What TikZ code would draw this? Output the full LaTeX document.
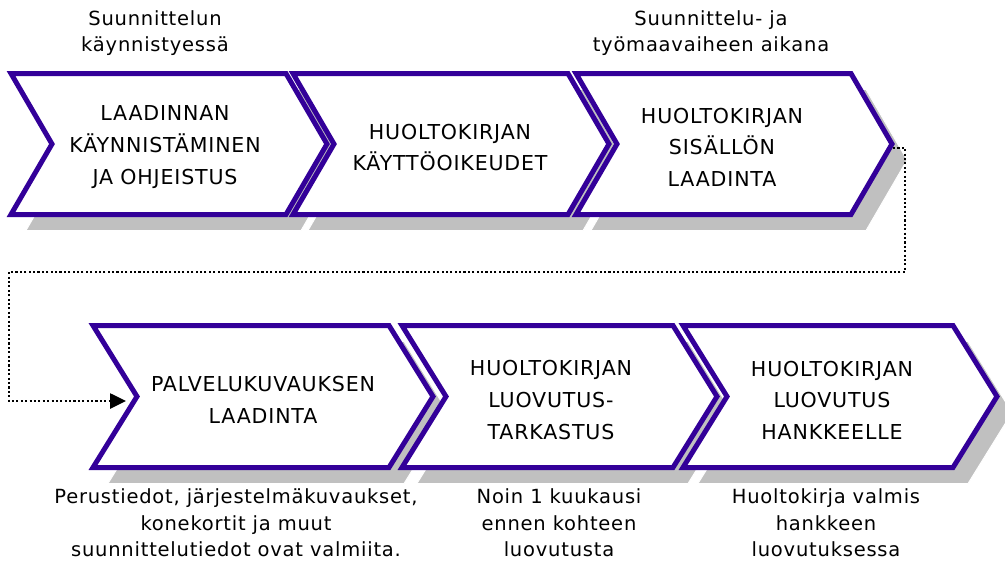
\documentclass[tikz,border=0pt]{standalone}
\usepackage{fontspec}
\setmainfont{DejaVu Sans}
\newfontfamily\stepfont[LetterSpace=4]{DejaVu Sans}
\usetikzlibrary{arrows.meta, positioning}

\definecolor{chevpurple}{RGB}{51,0,153}
\definecolor{shadowgray}{RGB}{192,192,192}

\tikzset{
  chevron/.style={draw=chevpurple, fill=white, line width=2.85pt},
  chevshadow/.style={fill=shadowgray, draw=white, line width=0.5pt},
  steptext/.style={align=center, font=\stepfont\fontsize{11.7}{18}\selectfont},
  note/.style={align=center, font=\stepfont\fontsize{11.1}{15.2}\selectfont},
  flow/.style={line width=1.3pt, dash pattern=on 1.2pt off 1.3pt,
    -{Triangle[length=9pt,width=8.5pt]}},
}

\begin{document}
\begin{tikzpicture}[x=0.02cm, y=-0.02cm]
    \useasboundingbox (0,0) rectangle (1005,583);

    % Shadows behind the chevrons
    \foreach \xa/\xb in {11/286, 293/568, 576/851}
      \filldraw[chevshadow, shift={(15,16)}] (\xa,73.5) -- (\xb,73.5) -- (\xb+41,144)
        -- (\xb,214.5) -- (\xa,214.5) -- (\xa+41,144) -- cycle;
    \foreach \xa/\xb in {93/389, 402/673, 683/953}
      \filldraw[chevshadow, shift={(15,16)}] (\xa,325.5) -- (\xb,325.5) -- (\xb+44,396.5)
        -- (\xb,467.5) -- (\xa,467.5) -- (\xa+44,396.5) -- cycle;

    % Top row of chevrons
    \foreach \xa/\xb/\nm in {11/286/t1, 293/568/t2, 576/851/t3} {
      \filldraw[chevron] (\xa,73.5) -- (\xb,73.5) -- (\xb+41,144)
        -- (\xb,214.5) -- (\xa,214.5) -- (\xa+41,144) -- cycle;
      \coordinate (\nm-tip) at (\xb+42,148);
    }

    % Bottom row of chevrons
    \foreach \xa/\xb/\nm in {93/389/b1, 402/673/b2, 683/953/b3} {
      \filldraw[chevron] (\xa,325.5) -- (\xb,325.5) -- (\xb+44,396.5)
        -- (\xb,467.5) -- (\xa,467.5) -- (\xa+44,396.5) -- cycle;
      \coordinate (\nm-notch) at (\xa+33,401);
    }

    % Step texts
    \node[steptext] (t1-text) at (165,147) {LAADINNAN\\KÄYNNISTÄMINEN\\JA OHJEISTUS};
    \node[steptext] (t2-text) at (450,147.5) {HUOLTOKIRJAN\\KÄYTTÖOIKEUDET};
    \node[steptext] (t3-text) at (722,147) {HUOLTOKIRJAN\\SISÄLLÖN\\LAADINTA};
    \node[steptext] (b1-text) at (263,400) {PALVELUKUVAUKSEN\\LAADINTA};
    \node[steptext] (b2-text) at (551,400) {HUOLTOKIRJAN\\LUOVUTUS-\\TARKASTUS};
    \node[steptext] (b3-text) at (832,400) {HUOLTOKIRJAN\\LUOVUTUS\\HANKKEELLE};

    % Timing notes
    \node[note] (start-note) at (155,33) {Suunnittelun\\käynnistyessä};
    \node[note] (work-note) at (711,33) {Suunnittelu- ja\\työmaavaiheen aikana};
    \node[note] (b1-note) at (236,523) {Perustiedot, järjestelmäkuvaukset,\\konekortit ja muut\\suunnittelutiedot ovat valmiita.};
    \node[note] (b2-note) at (559,523) {Noin 1 kuukausi\\ennen kohteen\\luovutusta};
    \node[note] (b3-note) at (826,523) {Huoltokirja valmis\\hankkeen\\luovutuksessa};

    % Dotted link from the top row to the bottom row
    \coordinate (turn-r) at (905,272);
    \coordinate (turn-l) at (9,272);
    \draw[flow] (t3-tip) -| (turn-r) -- (turn-l) |- (b1-notch);

  \end{tikzpicture}
\end{document}
